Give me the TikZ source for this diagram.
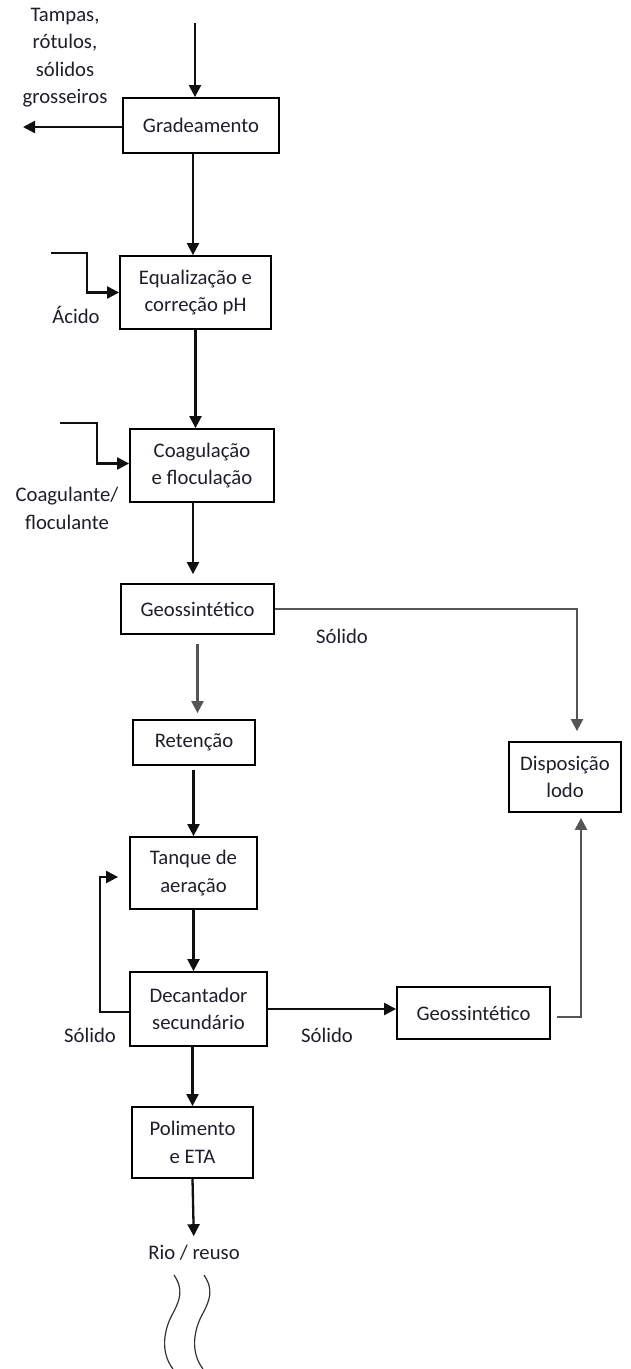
\documentclass[tikz,border=0pt]{standalone}
\usepackage{fontspec}
\setmainfont{Carlito}
\usetikzlibrary{arrows.meta}
\definecolor{ink}{HTML}{1E1E2A}
\definecolor{wire}{HTML}{101010}
\definecolor{greywire}{HTML}{555555}
\begin{document}
\begin{tikzpicture}[x=1pt,y=-1pt,
  lbl/.style={font=\fontsize{20.7}{27.5}\selectfont, text=ink, align=center, inner sep=0pt},
  box/.style={lbl, draw=black, line width=1.8pt},
  flow/.style={draw=wire, line width=2.3pt, -{Triangle[length=12pt,width=12pt]}},
  gflow/.style={flow, draw=greywire},
  wave/.style={draw=black!80, line width=1.2pt}]
\useasboundingbox (0,0) rectangle (630,1369);

% process boxes
\node[box, minimum width=156pt, minimum height=55pt] (grad)  at (201,125.5)  {Gradeamento};
\node[box, minimum width=151pt, minimum height=73pt] (equal) at (195.5,292.5) {Equalização e\\correção pH};
\node[box, minimum width=144pt, minimum height=73pt] (coag)  at (202,465.5)  {Coagulação\\e floculação};
\node[box, minimum width=153pt, minimum height=50pt] (geo1)  at (197.5,609)  {Geossintético};
\node[box, minimum width=122pt, minimum height=45pt] (ret)   at (194,742.5)  {Retenção};
\node[box, minimum width=127pt, minimum height=72pt] (tank)  at (193.5,873)  {Tanque de\\aeração};
\node[box, minimum width=137pt, minimum height=74pt] (dec)   at (198.5,1009) {Decantador\\secundário};
\node[box, minimum width=153pt, minimum height=52pt] (geo2)  at (473.5,1013) {Geossintético};
\node[box, minimum width=112pt, minimum height=70pt] (disp)  at (565,777)    {Disposição\\lodo};
\node[box, minimum width=121pt, minimum height=71pt] (pol)   at (192.5,1142.5) {Polimento\\e ETA};

% free labels
\node[lbl] (tampas) at (65,57.5)   {Tampas,\\rótulos,\\sólidos\\grosseiros};
\node[lbl] (acido)  at (76,315)    {Ácido};
\node[lbl] (coagl)  at (67,508.5)  {Coagulante/\\floculante};
\node[lbl] (sol1)   at (342,636)   {Sólido};
\node[lbl] (sol2)   at (90,1035)   {Sólido};
\node[lbl] (sol3)   at (327,1035)  {Sólido};
\node[lbl] (rio)    at (194,1253)  {Rio / reuso};

% loose ends
\coordinate (src)    at (195,23);
\coordinate (grosso) at (23,127);
\coordinate (acidin) at (51,253);
\coordinate (coagin) at (60,423);
\coordinate (colA)   at (193,0);

% main line
\draw[flow] (src) -- (grad.north -| src);
\draw[flow] (grad.west |- grosso) -- (grosso);
\draw[flow] (grad.south -| colA) -- (equal.north -| colA);
\draw[flow] (acidin) -- ++(36,0) |- (equal.west);
\draw[flow] (equal.south) -- (equal.south |- coag.north);
\draw[flow] (coagin) -- ++(37,0) |- ([yshift=2pt]coag.west);
\draw[flow, shorten >=9pt] (coag.south -| colA) -- (geo1.north -| colA);
\draw[gflow, shorten <=9pt, shorten >=6pt] (geo1.south) -- (geo1.south |- ret.north);
\draw[flow, shorten <=4pt] (ret.south -| tank.north) -- (tank.north);
\draw[flow] (tank.south) -- (tank.south |- dec.north);
\draw[flow] (dec.south -| pol.north) -- (pol.north);
\draw[flow, shorten >=9pt] (pol.south) -- (rio.north);

% sludge lines
\draw[gflow] (geo1.east) -| ([xshift=12pt,yshift=10pt]disp.north);
\draw[flow] ([yshift=-3pt]dec.west) -- ++(-29,0) |- ([xshift=-11pt,yshift=-4pt]tank.west);
\draw[flow] (dec.east) -- (dec.east -| geo2.west);
\draw[gflow] ([xshift=6pt,yshift=-4pt]geo2.east) -| ([xshift=16pt,yshift=-5pt]disp.south);

% river outlet
\draw[wave] (174,1275) .. controls (184,1290) and (180,1300) .. (172,1315)
            .. controls (164,1330) and (160,1352) .. (173,1369);
\draw[wave] (204,1275) .. controls (214,1290) and (210,1300) .. (202,1315)
            .. controls (194,1330) and (190,1352) .. (203,1369);
\end{tikzpicture}
\end{document}
